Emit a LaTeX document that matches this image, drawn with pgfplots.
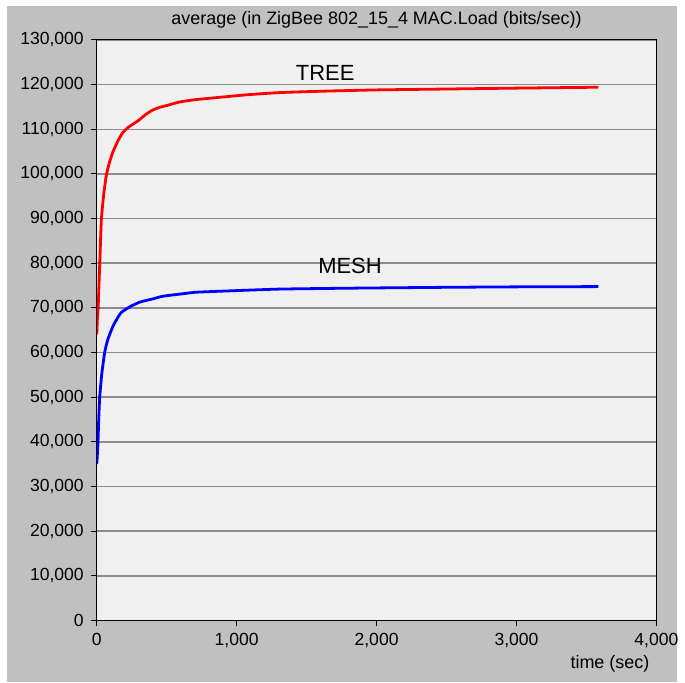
\documentclass[border=0pt]{standalone}
\usepackage{pgfplots}
\pgfplotsset{compat=1.18}
\usepackage{fontspec}
\setmainfont{Liberation Sans}
\usetikzlibrary{backgrounds,calc}
\definecolor{panel}{HTML}{C0C0C0}
\definecolor{plotbg}{HTML}{F0F0F0}
\definecolor{gridc}{HTML}{8C8C8C}

\begin{document}
\begin{tikzpicture}
\begin{axis}[
    scale only axis,
    width=280.5pt, height=291pt,
    xmin=0, xmax=4000, ymin=0, ymax=130000,
    xtick={0,1000,...,4000},
    ytick={0,10000,...,130000},
    scaled ticks=false,
    /pgf/number format/fixed,
    /pgf/number format/precision=0,
    /pgf/number format/1000 sep={,},
    /pgf/number format/assume math mode=true,
    tick label style={font=\fontsize{8.8}{10}\selectfont},
    tick align=outside,
    major tick length=3pt,
    tick style={black, line width=0.5pt},
    xtick pos=bottom, ytick pos=left,
    ymajorgrids,
    grid style={gridc, line width=0.7pt},
    axis line style={black, line width=0.6pt},
    axis background/.style={fill=plotbg},
    clip=true,
]
\addplot[red, line width=1.4pt, smooth, tension=0.3] coordinates {
    (0,64000) (5,68000) (10,70000) (21,79700) (33,89800) (50,95500)
    (69,99800) (90,102500) (114,104800) (150,107300) (185,109200)
    (220,110300) (257,111100) (300,112000) (350,113300) (400,114300)
    (450,114900) (500,115300) (592,116100)
    (700,116600) (830,117000) (1070,117700) (1305,118200) (1600,118500)
    (2000,118800) (2500,119000) (3000,119200) (3586,119400)
};
\addplot[blue, line width=1.4pt, smooth, tension=0.3] coordinates {
    (0,35000) (5,37500) (9,40000) (14,45000) (21,50000) (35,55000)
    (57,60100) (80,63000) (116,65900) (150,67800) (176,69000) (240,70300) (309,71300)
    (400,72000) (473,72600) (600,73100) (710,73500) (948,73800)
    (1305,74200) (1800,74400) (2500,74600) (3000,74700) (3586,74760)
};
\node[font=\fontsize{11}{13}\selectfont] at (axis cs:1633,122600) {TREE};
\node[font=\fontsize{11}{13}\selectfont] at (axis cs:1810,79300) {MESH};
\coordinate (sw) at (rel axis cs:0,0);
\coordinate (ne) at (rel axis cs:1,1);
\end{axis}
\begin{scope}[on background layer]
\fill[white] ([xshift=-48.5pt,yshift=-31pt]sw) rectangle ([xshift=13.5pt,yshift=20pt]ne);
\fill[panel] ([xshift=-45pt,yshift=-31pt]sw) rectangle ([xshift=10.5pt,yshift=17pt]ne);
\end{scope}
\node[font=\fontsize{9}{10}\selectfont, anchor=east] at ([yshift=-21.5pt]sw-|ne) {time (sec)};
\node[font=\fontsize{9}{10}\selectfont] at ([yshift=10pt]$(sw|-ne)!0.5!(ne)$) {average (in ZigBee 802\_15\_4 MAC.Load (bits/sec))};
\end{tikzpicture}
\end{document}
